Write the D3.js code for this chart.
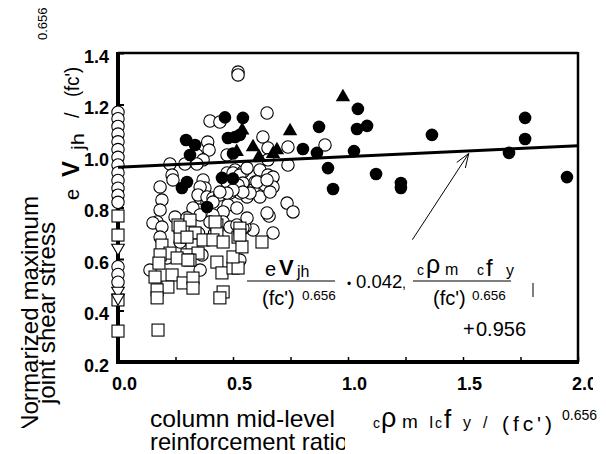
<!DOCTYPE html>
<html>
<head>
<meta charset="utf-8">
<script src="https://cdn.jsdelivr.net/npm/d3@7"></script>
<style>
  body { margin: 0; background: #fff; }
  svg { display: block; font-family: Arial, "Liberation Sans", sans-serif; }
</style>
</head>
<body>
<script>
// joint shear stress vs column mid-level reinforcement ratio
const openCircles = [
  [0,1.17],[0,1.145],[0,1.115],[0,1.085],[0,1.055],[0,1.025],[0,0.995],[0,0.965],[0,0.935],[0,0.905],
  [0,0.875],[0,0.848],[0,0.82],[0,0.57],[0,0.54],[0,0.51],
  [0.522,1.326],[0.522,1.315],[0.400,1.136],[0.443,1.132],[0.648,1.167],
  [0.390,1.054],[0.396,1.023],[0.343,1.004],[0.370,0.985],[0.226,0.969],[0.291,0.969],[0.343,0.969],
  [0.474,1.004],[0.509,0.946],[0.543,0.938],[0.474,0.934],[0.500,0.934],[0.530,0.926],[0.630,1.074],
  [0.652,1.031],[0.739,1.035],[0.739,0.965],[0.652,0.985],[0.900,1.043],
  [0.617,0.946],[0.561,0.953],[0.652,0.926],[0.674,0.918],[0.596,0.899],[0.639,0.887],[0.543,0.895],
  [0.674,0.880],[0.587,0.868],[0.561,0.841],[0.617,0.841],[0.661,0.860],[0.604,0.899],[0.648,0.907],
  [0.574,0.856],[0.530,0.856],
  [0.735,0.817],[0.761,0.783],[0.657,0.767],[0.587,0.713],[0.674,0.701],[0.552,0.724],[0.648,0.779],
  [0.183,0.880],[0.191,0.829],[0.183,0.790],[0.170,0.744],[0.235,0.926],[0.239,0.907],[0.152,0.740],
  [0.191,0.724],[0.248,0.763],
  [0.370,0.907],[0.378,0.876],[0.357,0.837],[0.387,0.821],[0.357,0.880],[0.348,0.849],[0.387,0.841],[0.413,0.837],
  [0.474,0.899],[0.522,0.887],[0.543,0.860],[0.487,0.856],[0.443,0.849],[0.413,0.821],[0.478,0.810],
  [0.517,0.798],[0.457,0.783],[0.326,0.798],[0.357,0.771],[0.413,0.771],[0.400,0.744],[0.457,0.744],
  [0.487,0.724],[0.517,0.732],[0.543,0.720],[0.561,0.759],[0.500,0.868],[0.474,0.856],[0.443,0.860],
  [0.183,0.685],[0.139,0.557],[0.270,0.666],[0.365,0.616],[0.357,0.557],[0.530,0.596],[0.213,0.604],
  [0.350,0.700],[0.300,0.760],[0.420,0.700]
];

const openSquares = [
  [0,0.767],[0,0.693],[0,0.441],[0,0.320],
  [0.261,0.732],[0.313,0.751],[0.270,0.685],[0.335,0.701],[0.322,0.654],[0.370,0.674],[0.430,0.732],
  [0.430,0.701],[0.413,0.674],[0.457,0.666],[0.522,0.685],[0.530,0.720],[0.191,0.654],[0.226,0.623],
  [0.300,0.616],[0.348,0.623],[0.183,0.616],[0.178,0.584],[0.161,0.530],[0.235,0.538],[0.257,0.604],
  [0.313,0.596],[0.283,0.507],[0.326,0.526],[0.326,0.487],[0.217,0.491],[0.170,0.480],[0.170,0.449],
  [0.430,0.588],[0.452,0.546],[0.500,0.565],[0.522,0.565],[0.500,0.608],[0.457,0.472],[0.443,0.449],
  [0.174,0.324],[0.626,0.666],[0.539,0.647],[0.270,0.724],[0.422,0.744],[0.530,0.693],[0.300,0.685],
  [0.304,0.596]
];

const filledCircles = [
  [0.465,1.150],[0.543,1.148],[0.296,1.062],[0.335,1.043],[0.313,1.004],[0.478,1.070],[0.509,1.074],
  [0.530,1.082],[0.500,1.010],[0.278,0.876],[0.300,0.899],[0.452,0.915],[0.500,0.912],[0.387,0.802],
  [0.804,1.027],[0.865,1.012],[0.874,1.113],[0.913,0.953],[0.935,0.872],[1.043,1.183],[1.039,1.105],
  [1.083,1.117],[1.026,1.019],[1.122,0.930],[1.230,0.895],[1.230,0.876],[1.365,1.082],[1.770,1.148],
  [1.770,1.066],[1.700,1.012],[1.952,0.918]
];

const filledTriangles = [
  [0.540,1.100],[0.516,1.016],[0.587,1.035],[0.613,0.996],[0.674,1.008],[0.691,1.023],[0.748,1.097],[0.978,1.229]
];

const downTriangles = [[0,0.643],[0,0.476],[0,0.449]];

const xTicks = [0, 0.25, 0.5, 0.75, 1.0, 1.25, 1.5, 1.75, 2.0];
const xLabels = [0, 0.5, 1.0, 1.5, 2.0];
const yTicks = [0.2, 0.4, 0.6, 0.8, 1.0, 1.2, 1.4];
const fit = {slope: 0.042, intercept: 0.956};

const width = 606, height = 454;

const svg = d3.select("body")
  .append("svg")
  .attr("width", width)
  .attr("height", height);

const x = d3.scaleLinear().domain([0, 2]).range([118, 578]);
const y = d3.scaleLinear().domain([0.2, 1.4]).range([362, 53]);

// clip paths for the cut-off labels
const defs = svg.append("defs");
defs.append("clipPath").attr("id", "clipR").append("rect")
  .attr("x", 0).attr("y", -20).attr("width", 593).attr("height", height);
defs.append("clipPath").attr("id", "clipTitle").append("rect")
  .attr("x", 0).attr("y", 0).attr("width", 345).attr("height", height);
defs.append("clipPath").attr("id", "clipY").append("rect")
  .attr("x", 0).attr("y", 0).attr("width", 110).attr("height", 428);

// Y axis
const yAxis = svg.append("g")
  .attr("transform", "translate(118,0)")
  .call(d3.axisLeft(y).tickValues(yTicks).tickSize(-6).tickPadding(9).tickFormat(d3.format(".1f")));
yAxis.select(".domain").remove();
yAxis.selectAll("line").attr("stroke", "#000").attr("stroke-width", 2);
yAxis.selectAll("text")
  .attr("fill", "#000")
  .attr("dy", "0.52em")
  .style("font-size", "18px").style("font-weight", "bold")
  .style("font-family", "Arial, 'Liberation Sans', sans-serif");

// X axis (last label is cut off in the original)
const xAxis = svg.append("g")
  .attr("transform", "translate(0,362)")
  .attr("clip-path", "url(#clipR)")
  .call(d3.axisBottom(x).tickValues(xTicks).tickSize(-5).tickPadding(15)
    .tickFormat(d => xLabels.includes(d) ? d3.format(".1f")(d) : ""));
xAxis.select(".domain").remove();
xAxis.selectAll("line").attr("stroke", "#000").attr("stroke-width", 1.5);
xAxis.selectAll("text")
  .attr("fill", "#000")
  .attr("dx", 6)
  .style("font-size", "18px").style("font-weight", "bold")
  .style("font-family", "Arial, 'Liberation Sans', sans-serif");

// frame
const x0 = x(0), x1 = x(2), y0 = y(0.2), y1 = y(1.4);
svg.append("line").attr("x1", x0).attr("x2", x1).attr("y1", y1).attr("y2", y1)
  .attr("stroke", "#000").attr("stroke-width", 2.5);
svg.append("line").attr("x1", x1).attr("x2", x1).attr("y1", y1 - 1).attr("y2", y0)
  .attr("stroke", "#000").attr("stroke-width", 2.5);
svg.append("line").attr("x1", x0).attr("x2", x0).attr("y1", y1 - 1).attr("y2", y0 + 2)
  .attr("stroke", "#000").attr("stroke-width", 4);
svg.append("line").attr("x1", x0 - 2).attr("x2", x1 + 1).attr("y1", y0).attr("y2", y0)
  .attr("stroke", "#000").attr("stroke-width", 4);

// markers
const pts = svg.append("g");

pts.selectAll(".oc")
  .data(openCircles)
  .join("circle")
    .attr("class", "oc")
    .attr("cx", d => x(d[0]))
    .attr("cy", d => y(d[1]))
    .attr("r", 6.2)
    .attr("fill", "#fff")
    .attr("stroke", "#000")
    .attr("stroke-width", 1.1);

pts.selectAll(".sq")
  .data(openSquares)
  .join("rect")
    .attr("class", "sq")
    .attr("x", d => x(d[0]) - 6)
    .attr("y", d => y(d[1]) - 6)
    .attr("width", 12)
    .attr("height", 12)
    .attr("fill", "#fff")
    .attr("stroke", "#000")
    .attr("stroke-width", 1.1);

pts.selectAll(".fc")
  .data(filledCircles)
  .join("circle")
    .attr("class", "fc")
    .attr("cx", d => x(d[0]))
    .attr("cy", d => y(d[1]))
    .attr("r", 6.3)
    .attr("fill", "#000");

const tri = d3.symbol(d3.symbolTriangle, 90);
pts.selectAll(".tr")
  .data(filledTriangles)
  .join("path")
    .attr("class", "tr")
    .attr("d", tri)
    .attr("transform", d => `translate(${x(d[0])},${y(d[1])})`)
    .attr("fill", "#000");

pts.selectAll(".dt")
  .data(downTriangles)
  .join("path")
    .attr("class", "dt")
    .attr("d", d3.symbol(d3.symbolTriangle, 70))
    .attr("transform", d => `translate(${x(d[0])},${y(d[1])}) rotate(180)`)
    .attr("fill", "#fff")
    .attr("stroke", "#000")
    .attr("stroke-width", 1.1);

// regression line
svg.append("path")
  .datum([0, 2])
  .attr("d", d3.line().x(d => x(d)).y(d => y(fit.intercept + fit.slope * d)))
  .attr("stroke", "#000")
  .attr("stroke-width", 3)
  .attr("fill", "none");

// arrow to the line
const ax0 = x(1.28), ay0 = y(0.675), ax1 = x(1.525), ay1 = y(1.01);
svg.append("line").attr("x1", ax0).attr("y1", ay0).attr("x2", ax1).attr("y2", ay1)
  .attr("stroke", "#000").attr("stroke-width", 1);
const ang = Math.atan2(ay1 - ay0, ax1 - ax0);
[0.35, -0.35].forEach(a => {
  svg.append("line")
    .attr("x1", ax1).attr("y1", ay1)
    .attr("x2", ax1 - 15 * Math.cos(ang + a))
    .attr("y2", ay1 - 15 * Math.sin(ang + a))
    .attr("stroke", "#000").attr("stroke-width", 1);
});

// helper for text pieces
function txt(g, s, px, py, size, opts = {}) {
  const t = g.append("text")
    .attr("x", px).attr("y", py)
    .style("font-size", size + "px")
    .attr("fill", "#000")
    .text(s);
  if (opts.bold) t.style("font-weight", "bold");
  if (opts.len) t.attr("textLength", opts.len).attr("lengthAdjust", opts.adj || "spacingAndGlyphs");
  return t;
}

// formula inside the plot
const f = svg.append("g");
txt(f, "e", 265, 276, 20);
txt(f, "V", 279, 275, 22, {bold: true});
txt(f, "jh", 297, 277, 16);
f.append("line").attr("x1", 247).attr("x2", 335).attr("y1", 281).attr("y2", 281)
  .attr("stroke", "#000").attr("stroke-width", 1.2);
txt(f, "(fc')", 262, 305, 20);
txt(f, "0.656", 302, 300, 13.5);
txt(f, "•", 347, 288, 12);
txt(f, "0.042", 356, 288, 18.5);
txt(f, ",", 402, 288, 14);
txt(f, "c", 417, 275, 14);
txt(f, "ρ", 426, 273, 25);
txt(f, "m", 445, 275, 16);
txt(f, "c", 477, 275, 14);
txt(f, "f", 486, 276, 24);
txt(f, "y", 506, 276, 16);
f.append("line").attr("x1", 413).attr("x2", 511).attr("y1", 281).attr("y2", 281)
  .attr("stroke", "#000").attr("stroke-width", 1.2);
txt(f, "(fc')", 433, 305, 20);
txt(f, "0.656", 472, 300, 13.5);
f.append("line").attr("x1", 533).attr("x2", 533).attr("y1", 283).attr("y2", 297)
  .attr("stroke", "#000").attr("stroke-width", 1);
txt(f, "+", 463, 336, 20);
txt(f, "0.956", 476, 336, 20);

// x axis title
const xt = svg.append("g");
txt(xt, "column mid-level", 150, 427, 24, {len: 185});
txt(xt, "reinforcement ratio", 150, 450, 24, {len: 198}).attr("clip-path", "url(#clipTitle)");
txt(xt, "c", 373, 428, 14);
txt(xt, "ρ", 381, 427, 27);
txt(xt, "m", 402, 428, 19);
txt(xt, "I", 429, 428, 16);
txt(xt, "c", 435, 428, 14);
txt(xt, "f", 444, 428, 26);
txt(xt, "y", 463, 428, 16);
txt(xt, "/", 483, 428, 16);
txt(xt, "(fc')", 502, 431, 21, {len: 50, adj: "spacing"});
txt(xt, "0.656", 562, 420, 14);

// y axis title (rotated)
const yt = svg.append("g").attr("clip-path", "url(#clipY)");
function rtxt(s, bx, by, size, opts = {}) {
  return txt(yt, s, 0, 0, size, opts).attr("transform", `translate(${bx},${by}) rotate(-90)`);
}
rtxt("Normarized maximum", 38, 432, 24, {len: 236});
rtxt("joint shear stress", 55, 404, 24, {len: 182});
rtxt("e", 79, 200, 20);
rtxt("V", 79, 177, 24, {bold: true});
rtxt("jh", 84, 150, 18, {len: 17});
rtxt("/", 79, 118, 20);
rtxt("(fc')", 79, 97, 20, {len: 30});
rtxt("0.656", 47, 40, 13);
</script>
</body>
</html>
